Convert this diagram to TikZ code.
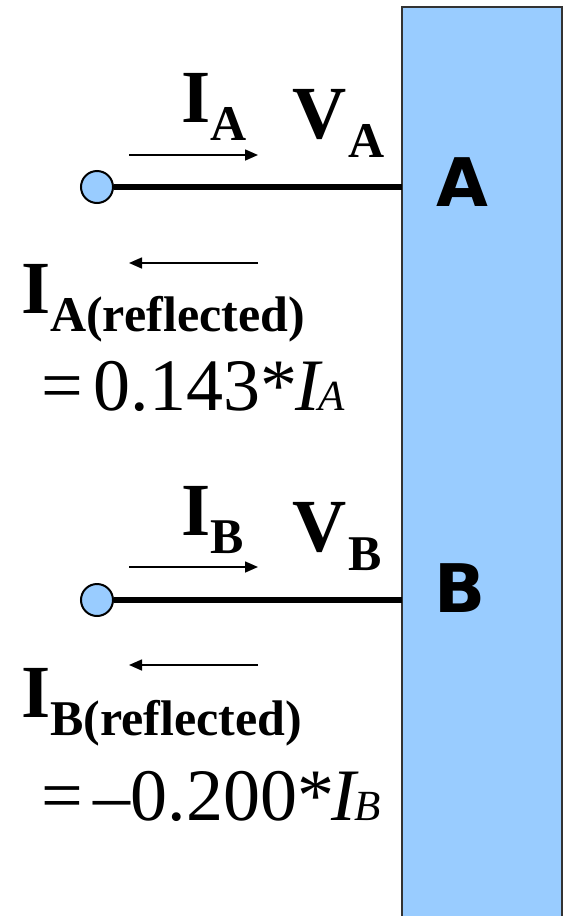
\documentclass[tikz,border=0pt]{standalone}
\usepackage{fontspec}
\setmainfont{Liberation Serif}
\newfontfamily\labfont{DejaVu Sans}
\usetikzlibrary{arrows.meta}
\definecolor{panel}{HTML}{99CCFF}
\newcommand{\smallital}[1]{{\fontsize{43}{43}\selectfont\itshape #1}}
\begin{document}
\begin{tikzpicture}[x=1pt,y=-1pt,
  big/.style={inner sep=0pt, anchor=base west, font=\fontsize{75}{75}\selectfont\bfseries},
  sub/.style={inner sep=0pt, anchor=base west, font=\fontsize{50}{50}\selectfont\bfseries},
  eqn/.style={inner sep=0pt, anchor=base west, font=\fontsize{74}{74}\selectfont},
  port/.style={circle, draw=black, line width=2pt, fill=panel, minimum size=32pt, inner sep=0pt},
  wire/.style={line width=6pt},
  flow/.style={line width=1.6pt, -{Triangle[length=13pt,width=11pt]}},
  lab/.style={font=\labfont\bfseries\fontsize{67}{67}\selectfont, anchor=base, inner sep=0pt}
]
\useasboundingbox (0,0) rectangle (564,916);
\node[draw=black!80, fill=panel, line width=2pt, outer sep=0pt, inner sep=0pt,
      minimum width=160pt, minimum height=923pt, anchor=north west] (board) at (401.5,7) {};
% port A
\node[port] (pA) at (97,187) {};
\draw[wire] (pA) -- (pA -| board.west);
\node[lab] (labA) at (462,206) {A};
\coordinate (inAs) at (129,155);
\coordinate (inAe) at (258,155);
\draw[flow] (inAs) -- (inAe);
\node[big] (IA) at (181,122) {I};
\node[sub] (IAs) at (210,140) {A};
\node[big] (VA) at (292,138) {V};
\node[sub] (VAs) at (348,157) {A};
\coordinate (rfAs) at (258,263);
\coordinate (rfAe) at (129,263);
\draw[flow] (rfAs) -- (rfAe);
\node[big] (IRA) at (21,313) {I};
\node[sub] (IRAs) at (50,331) {A(reflected)};
\node[eqn] (eqA) at (41,410) {=\hspace{11pt}0.143*\hspace{-2pt}\textit{I}\hspace{-4pt}\smallital{A}};
% port B
\node[port] (pB) at (97,600) {};
\draw[wire] (pB) -- (pB -| board.west);
\node[lab] (labB) at (460,612) {B};
\coordinate (inBs) at (129,567);
\coordinate (inBe) at (258,567);
\draw[flow] (inBs) -- (inBe);
\node[big] (IB) at (181,535) {I};
\node[sub] (IBs) at (210,553) {B};
\node[big] (VB) at (292,551) {V};
\node[sub] (VBs) at (348,570) {B};
\coordinate (rfBs) at (258,665);
\coordinate (rfBe) at (129,665);
\draw[flow] (rfBs) -- (rfBe);
\node[big] (IRB) at (21,717) {I};
\node[sub] (IRBs) at (50,735) {B(reflected)};
\node[eqn] (eqB) at (41,820) {=\hspace{11pt}–0.200*\hspace{-3pt}\textit{I}\hspace{-4pt}\smallital{B}};
\end{tikzpicture}
\end{document}
